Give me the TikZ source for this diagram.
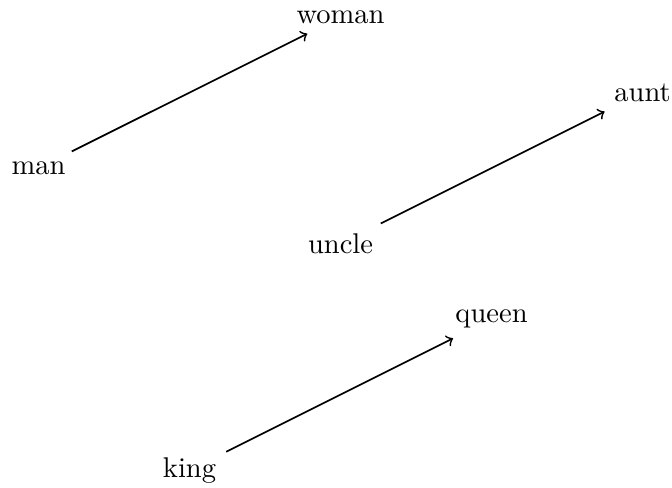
\documentclass[tikz,border=0pt]{standalone}
\begin{document}
\begin{tikzpicture}[x=1.86cm,y=1.86cm]
\useasboundingbox (-0.255,-2.113) rectangle (4.195,1.113);
\node (man) at (0,0) {man};
\node (woman) at (2,1) {woman};
\node (uncle) at (2,-0.5) {uncle};
\node (aunt) at (4,0.5) {aunt};
\node (king) at (1,-2) {king};
\node (queen) at (3,-1) {queen};
\draw[->, semithick] (man) -- (woman);
\draw[->, semithick] (uncle) -- (aunt);
\draw[->, semithick] (king) -- (queen);
\end{tikzpicture}
\end{document}
